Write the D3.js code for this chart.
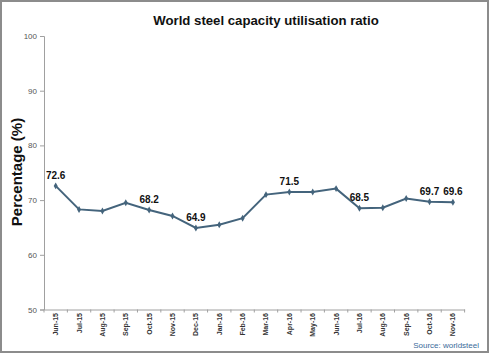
<!DOCTYPE html>
<html>
<head>
<meta charset="utf-8">
<script src="https://cdn.jsdelivr.net/npm/d3@7"></script>
<style>
  body { margin: 0; background: #fff; }
  svg { display: block; font-family: "Liberation Sans", Arial, sans-serif; }
</style>
</head>
<body>
<div id="chart"></div>
<script>
const months = ['Jun-15', 'Jul-15', 'Aug-15', 'Sep-15', 'Oct-15', 'Nov-15', 'Dec-15', 'Jan-16', 'Feb-16',
  'Mar-16', 'Apr-16', 'May-16', 'Jun-16', 'Jul-16', 'Aug-16', 'Sep-16', 'Oct-16', 'Nov-16'];
const ratio = [72.6, 68.3, 68.0, 69.5, 68.2, 67.1, 64.9, 65.5, 66.7,
  71.0, 71.5, 71.5, 72.1, 68.5, 68.6, 70.3, 69.7, 69.6];
const labelled = ['Jun-15', 'Oct-15', 'Dec-15', 'Apr-16', 'Jul-16', 'Oct-16', 'Nov-16'];
const yTicks = [50, 60, 70, 80, 90, 100];

const width = 490;
const height = 354;

const svg = d3.select('#chart').append('svg')
  .attr('width', width)
  .attr('height', height);

svg.append('rect')
  .attr('x', 1).attr('y', 1)
  .attr('width', width - 3).attr('height', height - 3)
  .attr('fill', '#fff')
  .attr('stroke', '#8c8c8c')
  .attr('stroke-width', 2);

const x = d3.scaleBand().domain(months).range([44, 464.6]).padding(0);
const y = d3.scaleLinear().domain([50, 100]).range([309.5, 36]);
const cx = d => x(d) + x.bandwidth() / 2;

// y axis
const yAxis = d3.axisLeft(y).tickValues(yTicks).tickSize(4).tickPadding(3);
const gy = svg.append('g').attr('transform', 'translate(44,0)').call(yAxis);
gy.select('.domain').attr('stroke', '#a0a0a0');
gy.selectAll('.tick line').attr('stroke', '#a0a0a0');
gy.selectAll('.tick text')
  .attr('font-size', 8)
  .attr('fill', '#555')
  .attr('font-family', '"Liberation Sans", Arial, sans-serif');

// x axis
const xAxis = d3.axisBottom(x).tickSize(0).tickPadding(4);
const gx = svg.append('g').attr('transform', `translate(0,${y(50)})`).call(xAxis);
gx.select('.domain').attr('stroke', '#a0a0a0');
gx.selectAll('.tick text')
  .attr('font-size', 7)
  .attr('font-weight', 'bold')
  .attr('fill', '#333')
  .attr('font-family', '"Liberation Sans", Arial, sans-serif')
  .attr('transform', 'rotate(-90)')
  .attr('text-anchor', 'end')
  .attr('dy', '0.35em')
  .attr('x', -3.5)
  .attr('y', 0);

gx.selectAll('.boundary')
  .data(months.map(m => x(m)).concat([x.range()[1]]))
  .enter()
  .append('line')
  .attr('class', 'boundary')
  .attr('x1', d => d).attr('x2', d => d)
  .attr('y1', 0).attr('y2', 3)
  .attr('stroke', '#a0a0a0');

// series
const line = d3.line()
  .x((d, i) => cx(months[i]))
  .y(d => y(d));

svg.append('path')
  .datum(ratio)
  .attr('d', line)
  .attr('fill', 'none')
  .attr('stroke', '#44647c')
  .attr('stroke-width', 2);

svg.selectAll('.marker')
  .data(ratio)
  .enter()
  .append('path')
  .attr('class', 'marker')
  .attr('d', d3.symbol().type(d3.symbolDiamond).size(14))
  .attr('transform', (d, i) => `translate(${cx(months[i])},${y(d)})`)
  .attr('fill', '#44647c');

svg.selectAll('.value')
  .data(ratio.map((v, i) => ({ m: months[i], v })).filter(d => labelled.includes(d.m)))
  .enter()
  .append('text')
  .attr('class', 'value')
  .attr('x', d => cx(d.m))
  .attr('y', d => y(d.v) - 7)
  .attr('text-anchor', 'middle')
  .attr('font-size', 10)
  .attr('font-weight', 'bold')
  .attr('fill', '#111')
  .text(d => d.v.toFixed(1));

// title and labels
svg.append('text')
  .attr('x', 266).attr('y', 25)
  .attr('text-anchor', 'middle')
  .attr('font-size', 13.2)
  .attr('font-weight', 'bold')
  .attr('fill', '#111')
  .text('World steel capacity utilisation ratio');

svg.append('text')
  .attr('transform', 'translate(22,172) rotate(-90)')
  .attr('text-anchor', 'middle')
  .attr('font-size', 15)
  .attr('font-weight', 'bold')
  .attr('fill', '#111')
  .text('Percentage (%)');

svg.append('text')
  .attr('x', 479).attr('y', 348)
  .attr('text-anchor', 'end')
  .attr('font-size', 8)
  .attr('fill', '#3a6b9a')
  .text('Source: worldsteel');
</script>
</body>
</html>
